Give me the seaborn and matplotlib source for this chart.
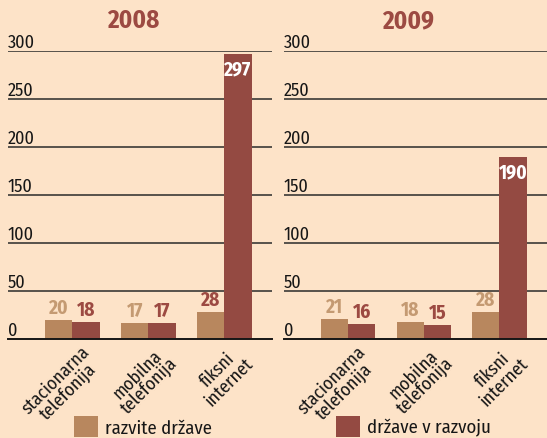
import numpy as np
import pandas as pd
import matplotlib
matplotlib.use("Agg")
import matplotlib.pyplot as plt
import seaborn as sns
from matplotlib.patches import Patch

# data
years = [2008, 2009]
categories = ["stacionarna\ntelefonija", "mobilna\ntelefonija", "fiksni\ninternet"]
groups = ["razvite države", "države v razvoju"]
developed = {2008: [20, 17, 28], 2009: [21, 18, 28]}
developing = {2008: [18, 17, 297], 2009: [16, 15, 190]}
yticks = [0, 50, 100, 150, 200, 250, 300]

bg = "#fde3c8"
tan = "#b8875e"
red = "#944a42"
tan_txt = "#c49a72"
red_txt = "#9c4a42"
ink = "#161616"

sns.set_theme(style="white")
plt.rcParams['font.family'] = ['Fira Sans Condensed', 'PT Sans Narrow',
                               'Liberation Sans', 'DejaVu Sans']

rows = []
for y in years:
    for c, a, b in zip(categories, developed[y], developing[y]):
        rows.append([y, c, groups[0], a])
        rows.append([y, c, groups[1], b])
df = pd.DataFrame(rows, columns=["year", "category", "group", "value"])

W, H = 547, 439
fig = plt.figure(figsize=(W / 100, H / 100), dpi=100, facecolor=bg)

# axes boxes in pixels: left, right
boxes = [(8, 272), (284, 547)]
y0, y300 = 340, 52

for year, (xl, xr) in zip(years, boxes):
    ax = fig.add_axes([xl / W, 1 - y0 / H, (xr - xl) / W, (y0 - y300) / H])
    ax.set_facecolor(bg)
    sub = df[df.year == year]
    sns.barplot(data=sub, x="category", y="value", hue="group",
                palette=[tan, red], width=0.72, saturation=1,
                linewidth=0, edgecolor="none", ax=ax, legend=False)
    ax.set_ylim(0, 300)
    ax.set_xlim(-0.85, 2.63)
    for s in ["top", "right", "left"]:
        ax.spines[s].set_visible(False)
    ax.spines["bottom"].set_color(ink)
    ax.spines["bottom"].set_linewidth(1.4)
    ax.set_yticks(yticks[1:])
    ax.set_yticklabels([])
    ax.tick_params(axis="y", length=0)
    ax.yaxis.grid(True, color="#2a2a2a", linewidth=1.1)
    ax.set_axisbelow(True)
    ax.set_xlabel("")
    ax.set_ylabel("")

    # y labels sit above the lines, left aligned
    for v in yticks:
        ax.annotate(str(v), xy=(0, v), xycoords=("axes fraction", "data"),
                    xytext=(0, 3), textcoords="offset points",
                    ha="left", va="baseline", fontsize=13, color=ink)

    # cross ticks between categories
    ax.set_xticks([-0.5, 0.5, 1.5, 2.5])
    ax.set_xticklabels([])
    ax.tick_params(axis="x", direction="inout", length=12,
                   width=1.3, color=ink)
    for i, c in enumerate(categories):
        ax.annotate(c, xy=(i, 0), xycoords="data", xytext=(6, -2),
                    textcoords="offset points", rotation=45, ha="right",
                    va="top", rotation_mode="anchor", multialignment="center",
                    fontsize=13, color=ink, linespacing=0.9)

    # value labels
    for cont, col in zip(ax.containers, [tan_txt, red_txt]):
        for i, p in enumerate(cont.patches):
            v = p.get_height()
            cx = p.get_x() + p.get_width() / 2
            if v > 100:
                ax.annotate(f"{int(v)}", (cx, v), xytext=(0, -4),
                            textcoords="offset points", ha="center", va="top",
                            color="white", fontsize=14, fontweight="bold")
            else:
                c = col
                if year == 2008 and i == 2 and col == tan_txt:
                    c = red_txt
                ax.annotate(f"{int(v)}", (cx, v), xytext=(0, 2),
                            textcoords="offset points", ha="center", va="bottom",
                            color=c, fontsize=14, fontweight="bold")

    fig.text(((xl + xr) / 2 - 7) / W, 1 - 21 / H, str(year), ha="center",
             va="center", fontsize=18, fontweight="bold", color=red_txt)

# legend, one entry on each side
for g, col, x in zip(groups, [tan, red], [74, 336]):
    fig.legend(handles=[Patch(facecolor=col, edgecolor="none", label=g)],
               loc="lower left", bbox_to_anchor=(x / W, 0.003),
               frameon=False, fontsize=13.5, handlelength=1.3, handleheight=1.3,
               handletextpad=0.35, borderpad=0.0, borderaxespad=0.0,
               labelcolor=ink)

fig.savefig("out.png", dpi=100, facecolor=bg)
